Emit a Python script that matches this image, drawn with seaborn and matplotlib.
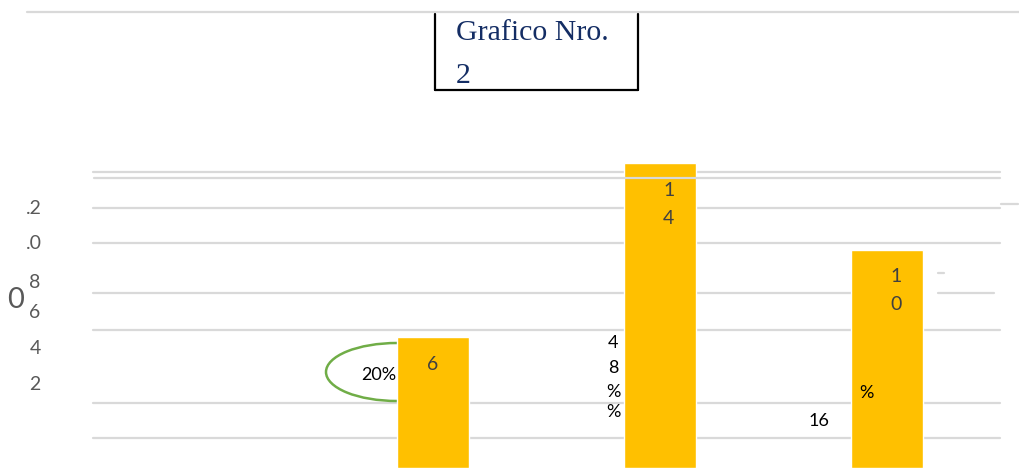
import matplotlib
matplotlib.use("Agg")
import matplotlib.pyplot as plt
from matplotlib.lines import Line2D
from matplotlib.patches import Ellipse
import seaborn as sns

# ---- data ----
categories = ["1", "2", "3"]
values = [6, 14, 10]
pct_labels = ["20%", "48%", "16%"]
title_lines = ["Grafico Nro.", "2"]
axis_fragments = [".2", ".0", "8", "6", "4", "2"]
axis_big = "0"

W, H = 1020, 468
sns.set_theme(style="white")
plt.rcParams["font.family"] = ["Lato", "DejaVu Sans"]

fig = plt.figure(figsize=(W / 100, H / 100), dpi=100)
fig.patch.set_facecolor("white")
ax = fig.add_axes([93 / W, 0, (1000 - 93) / W, 1])

PX_PER_UNIT = 21.8
sns.barplot(x=categories, y=values, color="#FFC000", saturation=1,
            width=72 / 227, ax=ax, zorder=2)
ax.set_xlim(-1.5, 2.5)
ax.set_ylim(0, H / PX_PER_UNIT)
ax.set_axis_off()

FT = fig.transFigure
GRID = "#d9d9d9"


def fx(x):
    return x / W


def fy(y):
    return 1 - y / H


def hline(x0, x1, y, z=0.5, lw=1.6, color=GRID):
    ax.add_line(Line2D([fx(x0), fx(x1)], [fy(y), fy(y)], transform=FT,
                       color=color, lw=lw, zorder=z, clip_on=False))


# gridlines (under bars except one)
for y in [172, 208, 243, 330, 403, 438]:
    hline(93, 1000, y)
hline(94, 1000, 178, z=3)
hline(93, 852, 293)
hline(938, 994, 293)
hline(938, 944, 273)
hline(1001, 1018, 204)
# top rule
hline(27, 1020, 12)

# title box (left, right, bottom sides)
for xs, ys in [([435, 435], [14, 90]), ([638, 638], [14, 90]), ([435, 638], [90, 90])]:
    ax.add_line(Line2D([fx(v) for v in xs], [fy(v) for v in ys], transform=FT,
                       color="black", lw=1.6, zorder=3, clip_on=False))
fig.text(fx(456), fy(40), title_lines[0], ha="left", va="baseline",
         fontsize=21.5, family=["Liberation Serif"], color="#142d64")
fig.text(fx(456), fy(83), title_lines[1], ha="left", va="baseline",
         fontsize=21.5, family=["Liberation Serif"], color="#142d64")

# garbled y-axis fragments
for txt, (x, y) in zip(axis_fragments,
                       [(34, 208), (34, 243), (35, 283), (35, 313), (35, 349), (35, 385)]):
    fig.text(fx(x), fy(y), txt, ha="center", va="center", fontsize=14, color="#595959")
fig.text(fx(16), fy(300), axis_big, ha="center", va="center", fontsize=21, color="#595959")

# value labels inside bars, digits stacked
label_dx = [0, 9, 9]
label_dy = [27, 28, 26]
for i, v in enumerate(values):
    for k, ch in enumerate(str(v)):
        ax.annotate(ch, xy=(i, v), xytext=(label_dx[i], -label_dy[i] - 28 * k),
                    textcoords="offset pixels", ha="center", va="center",
                    fontsize=14, color="#404040", zorder=4)

# green callout ellipse behind first bar
ax.add_patch(Ellipse((fx(397), fy(372)), 142 / W, 58 / H, transform=FT,
                     fill=False, edgecolor="#70ad47", lw=1.8, zorder=1, clip_on=False))
ax.text(fx(379), fy(375), pct_labels[0], transform=FT, ha="center", va="center",
        fontsize=13, color="black", zorder=1.5)

# percentage fragments
p2 = pct_labels[1]
for ch, y in zip([p2[0], p2[1], p2[2], p2[2]], [343, 368, 392, 412]):
    ax.text(fx(613), fy(y), ch, transform=FT, ha="center", va="center",
            fontsize=13, color="black", zorder=4)
p3 = pct_labels[2]
ax.text(fx(866), fy(393), p3[2], transform=FT, ha="center", va="center",
        fontsize=13, color="black", zorder=4)
ax.text(fx(819), fy(421), p3[:2], transform=FT, ha="center", va="center",
        fontsize=13, color="black", zorder=4)

fig.savefig("out.png", dpi=100, facecolor="white")
